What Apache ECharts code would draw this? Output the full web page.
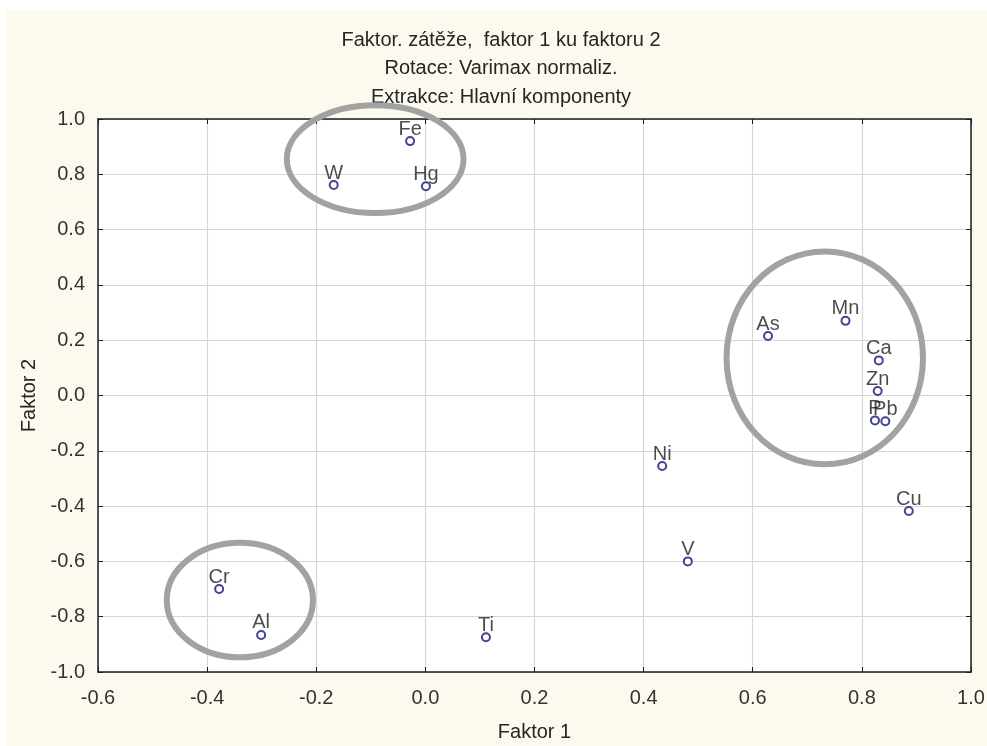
<!DOCTYPE html>
<html>
<head>
<meta charset="utf-8">
<script src="https://cdn.jsdelivr.net/npm/echarts@6/dist/echarts.min.js"></script>
<style>
  html, body { margin: 0; padding: 0; background: #ffffff; }
  #chart { width: 987px; height: 746px; }
</style>
</head>
<body>
<div id="chart"></div>
<script>
// faktorové zátěže
const elements = ["Fe", "W", "Hg", "As", "Mn", "Ca", "Zn", "P", "Pb", "Ni", "Cu", "V", "Cr", "Al", "Ti"];
const faktor1 = [-0.028, -0.168, 0.001, 0.628, 0.770, 0.831, 0.829, 0.824, 0.843, 0.434, 0.886, 0.481, -0.378, -0.301, 0.111];
const faktor2 = [0.920, 0.761, 0.757, 0.215, 0.270, 0.127, 0.016, -0.090, -0.093, -0.255, -0.418, -0.600, -0.700, -0.866, -0.874];

const xTicks = [-0.6, -0.4, -0.2, 0.0, 0.2, 0.4, 0.6, 0.8, 1.0];
const yTicks = [-1.0, -0.8, -0.6, -0.4, -0.2, 0.0, 0.2, 0.4, 0.6, 0.8, 1.0];

// ručně zakreslené skupiny (střed x, střed y, poloosa x, poloosa y)
const groupCx = [-0.092, 0.732, -0.340];
const groupCy = [0.855, 0.136, -0.740];
const groupRx = [0.162, 0.180, 0.134];
const groupRy = [0.195, 0.385, 0.207];

const titleLines = ["Faktor. zátěže,  faktor 1 ku faktoru 2", "Rotace: Varimax normaliz.", "Extrakce: Hlavní komponenty"];

const FONT = "'Liberation Sans', Arial, sans-serif";
const FS = 20;

const chart = echarts.init(document.getElementById("chart"));

const points = elements.map((n, i) => ({ name: n, value: [faktor1[i], faktor2[i]] }));
const groups = groupCx.map((cx, i) => [cx, groupCy[i], groupRx[i], groupRy[i]]);

function axisCommon(extra) {
  return Object.assign({
    type: "value",
    interval: 0.2,
    axisLine: { show: true, onZero: false, lineStyle: { color: "#1e1e1e", width: 1.5 } },
    axisTick: { show: true, inside: true, length: 5, lineStyle: { color: "#1e1e1e", width: 1 } },
    splitLine: { show: false },
    axisLabel: { show: false }
  }, extra);
}

const option = {
  backgroundColor: "#ffffff",
  animation: false,
  graphic: [
    {
      type: "rect", z: -10, silent: true,
      shape: { x: 6, y: 10, width: 981, height: 736 },
      style: { fill: "#fcf9ef" }
    },
    {
      type: "text", x: 501, y: 26, silent: true,
      style: {
        text: titleLines.join("\n"), textAlign: "center", textVerticalAlign: "top",
        fill: "#262626", font: FS + "px " + FONT, lineHeight: 28.5
      }
    }
  ],
  grid: {
    left: 98, right: 16, top: 119, bottom: 74,
    outerBoundsMode: "none", containLabel: false,
    show: true, backgroundColor: "#ffffff", borderWidth: 0
  },
  xAxis: [
    axisCommon({
      min: -0.6, max: 1.0, position: "bottom",
      name: "Faktor 1", nameLocation: "middle", nameGap: 50,
      nameTextStyle: { color: "#262626", fontSize: FS, fontFamily: FONT },
      splitLine: { show: true, lineStyle: { color: "#d6d6d6", width: 1.2 } },
      axisLabel: {
        show: true, margin: 16, color: "#333", fontSize: FS, fontFamily: FONT,
        formatter: v => v.toFixed(1)
      }
    }),
    axisCommon({ min: -0.6, max: 1.0, position: "top" })
  ],
  yAxis: [
    axisCommon({
      min: -1.0, max: 1.0, position: "left",
      name: "Faktor 2", nameLocation: "middle", nameGap: 56, nameRotate: 90,
      nameTextStyle: { color: "#262626", fontSize: FS, fontFamily: FONT },
      splitLine: { show: true, lineStyle: { color: "#d6d6d6", width: 1.2 } },
      axisLabel: {
        show: true, margin: 13, color: "#333", fontSize: FS, fontFamily: FONT,
        formatter: v => v.toFixed(1)
      }
    }),
    axisCommon({ min: -1.0, max: 1.0, position: "right" })
  ],
  series: [
    {
      type: "custom",
      coordinateSystem: "cartesian2d",
      silent: true,
      z: 1,
      data: groups,
      renderItem: function (params, api) {
        const c = api.coord([api.value(0), api.value(1)]);
        const s = api.size([api.value(2), api.value(3)]);
        return {
          type: "ellipse",
          shape: { cx: c[0], cy: c[1], rx: s[0], ry: s[1] },
          style: { fill: null, stroke: "#a2a2a2", lineWidth: 6 }
        };
      }
    },
    {
      type: "scatter",
      z: 3,
      symbol: "emptyCircle",
      symbolSize: 8,
      itemStyle: { color: "#14147c", borderWidth: 2 },
      label: {
        show: true, position: "top", distance: -3,
        formatter: "{b}", color: "#1e1e1e", fontSize: FS, fontFamily: FONT
      },
      labelLayout: { hideOverlap: false },
      data: points
    }
  ]
};

chart.setOption(option);
</script>
</body>
</html>
